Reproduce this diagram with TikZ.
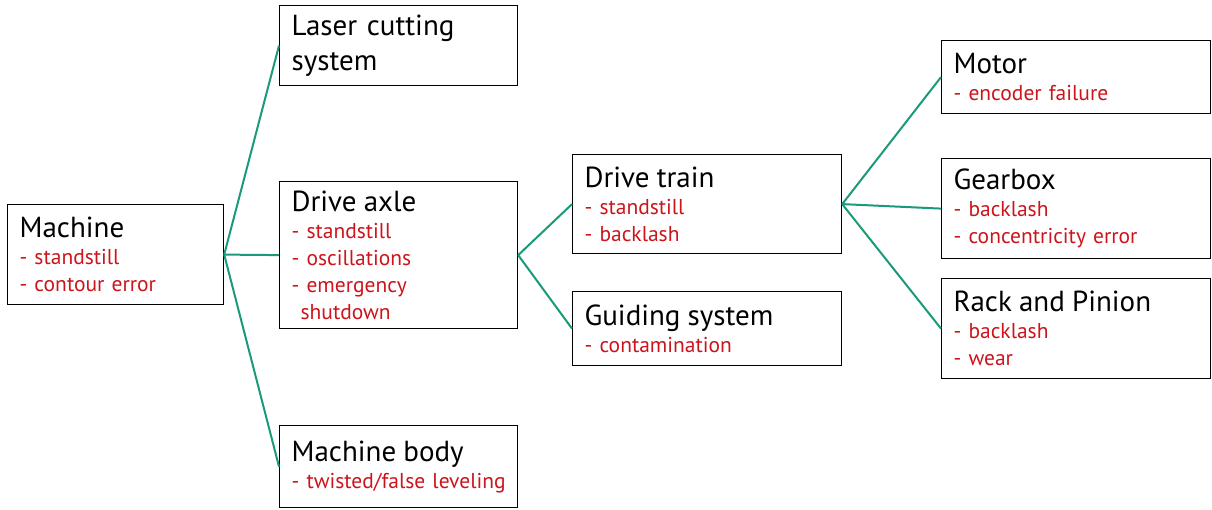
\documentclass[tikz,border=0pt]{standalone}
\usepackage{fontspec}
\setmainfont{PT Sans}

\definecolor{linkgreen}{RGB}{26,154,122}
\definecolor{faultred}{RGB}{204,20,28}

\newcommand{\unitname}[1]{{\fontsize{29}{27}\selectfont #1}}
\newcommand{\fault}[1]{\textcolor{faultred}{\mbox{- #1}}}

\tikzset{
    unitbox/.style 2 args={draw, line width=1.2pt, anchor=north west, align=left,
        inner xsep=12pt, inner ysep=0pt, text width=#1, minimum height=#2,
        font=\fontsize{21.5}{27}\selectfont},
    link/.style={draw=linkgreen, line width=2pt},
}

\begin{document}
\begin{tikzpicture}[x=1pt,y=-1pt]
    \useasboundingbox (0,0) rectangle (1212,509);

    % Ebene 1
    \node[unitbox={192pt}{100pt}] (machine) at (7,204)
        {\unitname{Machine}\\\fault{standstill}\\\fault{contour error}};

    % Ebene 2
    \node[unitbox={214pt}{80pt}, font=\fontsize{29}{35}\selectfont] (laser) at (279,5)
        {Laser cutting\\system};
    \node[unitbox={214pt}{147pt}] (axle) at (279,181)
        {\unitname{Drive axle}\\\fault{standstill}\\\fault{oscillations}\\\fault{emergency}\\
         \textcolor{faultred}{\hspace*{9pt}shutdown}};
    \node[unitbox={214pt}{82pt}] (body) at (279,425)
        {\unitname{Machine body}\\\fault{twisted/false leveling}};

    % Ebene 3
    \node[unitbox={245pt}{99pt}] (train) at (572,154)
        {\unitname{Drive train}\\\fault{standstill}\\\fault{backlash}};
    \node[unitbox={245pt}{74pt}] (guide) at (572,291)
        {\unitname{Guiding system}\\\fault{contamination}};

    % Ebene 4
    \node[unitbox={245pt}{73pt}] (motor) at (941,40)
        {\unitname{Motor}\\\fault{encoder failure}};
    \node[unitbox={245pt}{100pt}] (gearbox) at (941,158)
        {\unitname{Gearbox}\\\fault{backlash}\\\fault{concentricity error}};
    \node[unitbox={245pt}{100pt}] (rack) at (941,278)
        {\unitname{Rack and Pinion}\\\fault{backlash}\\\fault{wear}};

    % Verbindungen
    \foreach \child in {laser,axle,body} {
        \draw[link] (machine.east) -- (\child.west);
    }
    \foreach \child in {train,guide} {
        \draw[link] (axle.east) -- (\child.west);
    }
    \foreach \child in {motor,gearbox,rack} {
        \draw[link] (train.east) -- (\child.west);
    }
\end{tikzpicture}
\end{document}
